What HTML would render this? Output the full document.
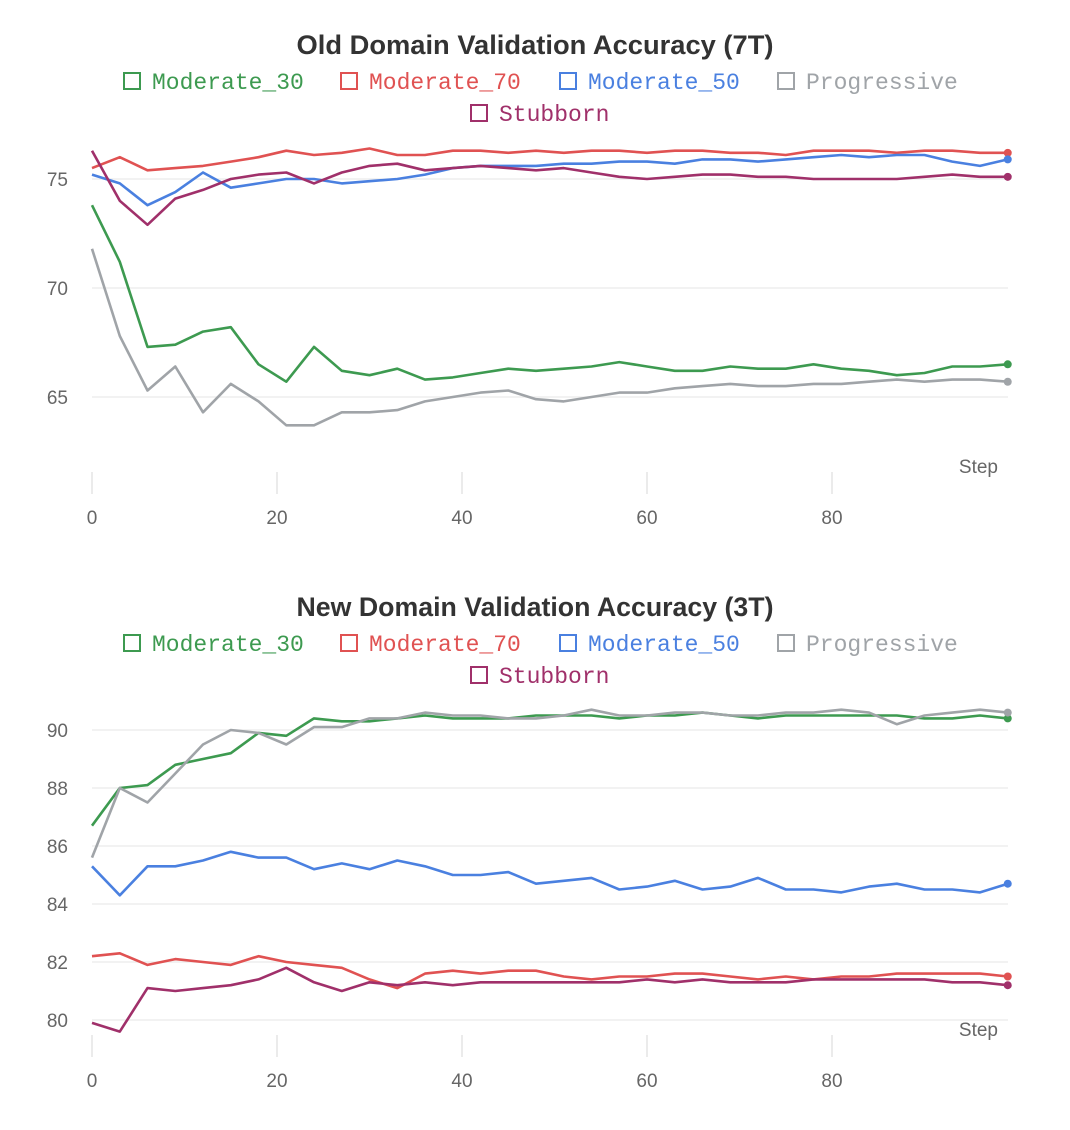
<!DOCTYPE html>
<html><head><meta charset="utf-8"><style>
body{margin:0;background:#fff;width:1070px;height:1125px;overflow:hidden}
svg text{font-family:"Liberation Sans",sans-serif}
.leg{font-family:"Liberation Mono",monospace;font-size:23px}
</style></head><body>
<svg id="svg" width="1070" height="1125"></svg>
<script>
const steps=[0,3,6,9,12,15,18,21,24,27,30,33,36,39,42,45,48,51,54,57,60,63,66,69,72,75,78,81,84,87,90,93,96,99];
const xTicks=[0,20,40,60,80];
const topTicks=[65,70,75];
const botTicks=[80,82,84,86,88,90];
const seriesNames=["Moderate_30","Moderate_70","Moderate_50","Progressive","Stubborn"];
const seriesColors=["#3d9a50","#e05252","#4a80e0","#a0a4a8","#a0306a"];
const top_m30=[73.8,71.2,67.3,67.4,68.0,68.2,66.5,65.7,67.3,66.2,66.0,66.3,65.8,65.9,66.1,66.3,66.2,66.3,66.4,66.6,66.4,66.2,66.2,66.4,66.3,66.3,66.5,66.3,66.2,66.0,66.1,66.4,66.4,66.5];
const top_m70=[75.5,76.0,75.4,75.5,75.6,75.8,76.0,76.3,76.1,76.2,76.4,76.1,76.1,76.3,76.3,76.2,76.3,76.2,76.3,76.3,76.2,76.3,76.3,76.2,76.2,76.1,76.3,76.3,76.3,76.2,76.3,76.3,76.2,76.2];
const top_m50=[75.2,74.8,73.8,74.4,75.3,74.6,74.8,75.0,75.0,74.8,74.9,75.0,75.2,75.5,75.6,75.6,75.6,75.7,75.7,75.8,75.8,75.7,75.9,75.9,75.8,75.9,76.0,76.1,76.0,76.1,76.1,75.8,75.6,75.9];
const top_prog=[71.8,67.8,65.3,66.4,64.3,65.6,64.8,63.7,63.7,64.3,64.3,64.4,64.8,65.0,65.2,65.3,64.9,64.8,65.0,65.2,65.2,65.4,65.5,65.6,65.5,65.5,65.6,65.6,65.7,65.8,65.7,65.8,65.8,65.7];
const top_stub=[76.3,74.0,72.9,74.1,74.5,75.0,75.2,75.3,74.8,75.3,75.6,75.7,75.4,75.5,75.6,75.5,75.4,75.5,75.3,75.1,75.0,75.1,75.2,75.2,75.1,75.1,75.0,75.0,75.0,75.0,75.1,75.2,75.1,75.1];
const bot_m30=[86.7,88.0,88.1,88.8,89.0,89.2,89.9,89.8,90.4,90.3,90.3,90.4,90.5,90.4,90.4,90.4,90.5,90.5,90.5,90.4,90.5,90.5,90.6,90.5,90.4,90.5,90.5,90.5,90.5,90.5,90.4,90.4,90.5,90.4];
const bot_m70=[82.2,82.3,81.9,82.1,82.0,81.9,82.2,82.0,81.9,81.8,81.4,81.1,81.6,81.7,81.6,81.7,81.7,81.5,81.4,81.5,81.5,81.6,81.6,81.5,81.4,81.5,81.4,81.5,81.5,81.6,81.6,81.6,81.6,81.5];
const bot_m50=[85.3,84.3,85.3,85.3,85.5,85.8,85.6,85.6,85.2,85.4,85.2,85.5,85.3,85.0,85.0,85.1,84.7,84.8,84.9,84.5,84.6,84.8,84.5,84.6,84.9,84.5,84.5,84.4,84.6,84.7,84.5,84.5,84.4,84.7];
const bot_prog=[85.6,88.0,87.5,88.5,89.5,90.0,89.9,89.5,90.1,90.1,90.4,90.4,90.6,90.5,90.5,90.4,90.4,90.5,90.7,90.5,90.5,90.6,90.6,90.5,90.5,90.6,90.6,90.7,90.6,90.2,90.5,90.6,90.7,90.6];
const bot_stub=[79.9,79.6,81.1,81.0,81.1,81.2,81.4,81.8,81.3,81.0,81.3,81.2,81.3,81.2,81.3,81.3,81.3,81.3,81.3,81.3,81.4,81.3,81.4,81.3,81.3,81.3,81.4,81.4,81.4,81.4,81.4,81.3,81.3,81.2];

const svg=document.getElementById('svg');
const NS="http://www.w3.org/2000/svg";
function mk(tag,attrs,parent){const e=document.createElementNS(NS,tag);for(const k in attrs)e.setAttribute(k,attrs[k]);(parent||svg).appendChild(e);return e;}
const xs=v=>92+v*9.25;

function chart(cfg){
  const g=mk('g',{});
  
  
  const ys=v=>cfg.y0+(cfg.v0-v)*cfg.k;
  const t=mk('text',{x:535,y:cfg.top+23,'text-anchor':'middle','font-size':'27','font-weight':'bold',fill:'#333',textLength:477,lengthAdjust:'spacingAndGlyphs'},g);
  t.textContent=cfg.title;
  
  
  const legPos=[[130,cfg.top+58],[347,cfg.top+58],[566,cfg.top+58],[784,cfg.top+58],[477,cfg.top+90]];
  seriesNames.forEach((n,i)=>{
    const lg=mk('g',{},g);
    
    
    const [lx,ly]=legPos[i];
    mk('rect',{x:lx-6,y:ly-16,width:16,height:16,fill:'none',stroke:seriesColors[i],'stroke-width':2},lg);
    const tx=mk('text',{x:lx+22,y:ly,class:'leg',fill:seriesColors[i]},lg);
    tx.textContent=n;
  });
  cfg.ticks.forEach(v=>{
    const gl=mk('line',{x1:92,x2:1008,y1:ys(v),y2:ys(v),stroke:'#eeeeee','stroke-width':1.5},g);
    
    
    const tl=mk('text',{x:68,y:ys(v)+7,'text-anchor':'end','font-size':'19',fill:'#666'},g);
    tl.textContent=v;
    
    
  });
  xTicks.forEach(v=>{
    mk('line',{x1:xs(v),x2:xs(v),y1:cfg.axisY-22,y2:cfg.axisY,stroke:'#e4e4e4','stroke-width':1.5},g);
    const tl=mk('text',{x:xs(v),y:cfg.axisY+30,'text-anchor':'middle','font-size':'19',fill:'#666'},g);
    tl.textContent=v;
    
    
  });
  const st=mk('text',{x:998,y:cfg.axisY-21,'text-anchor':'end','font-size':'19',fill:'#666'},g);
  st.textContent='Step';
  
  
  cfg.data.forEach((arr,i)=>{
    const d=arr.map((v,j)=>(j?'L':'M')+xs(steps[j]).toFixed(1)+','+ys(v).toFixed(1)).join(' ');
    const p=mk('path',{d:d,fill:'none',stroke:seriesColors[i],'stroke-width':2.6,'stroke-linejoin':'round'},g);
    
    
    const last=arr.length-1;
    const c=mk('circle',{cx:xs(steps[last]),cy:ys(arr[last]),r:4,fill:seriesColors[i]},g);
    
    
  });
}
chart({name:'old-domain-chart',title:'Old Domain Validation Accuracy (7T)',top:31,y0:179,v0:75,k:21.8,ticks:topTicks,axisY:494,
  data:[top_m30,top_m70,top_m50,top_prog,top_stub]});
chart({name:'new-domain-chart',title:'New Domain Validation Accuracy (3T)',top:593,y0:730,v0:90,k:29,ticks:botTicks,axisY:1057,
  data:[bot_m30,bot_m70,bot_m50,bot_prog,bot_stub]});
</script>
</body></html>
